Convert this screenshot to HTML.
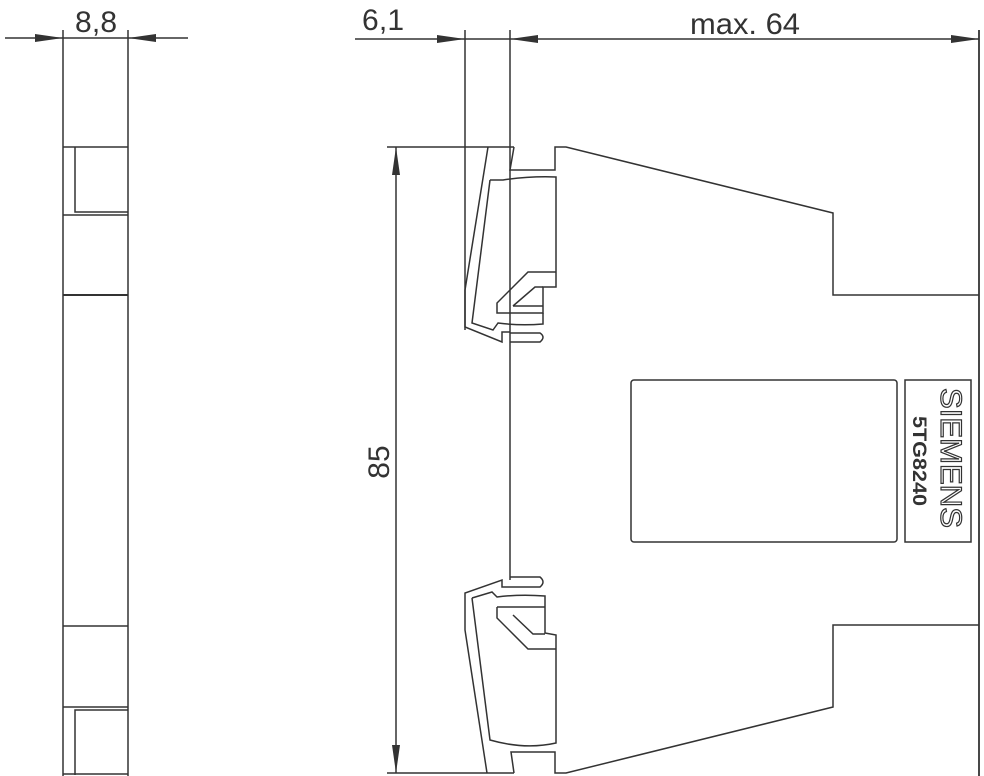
<!DOCTYPE html>
<html><head><meta charset="utf-8"><style>
html,body{margin:0;padding:0;background:#fff;}
svg{display:block;}
</style></head><body>
<svg width="984" height="776" viewBox="0 0 984 776" xmlns="http://www.w3.org/2000/svg">
<g fill="none" stroke="#333" stroke-width="1.5">
<line x1="63" y1="30" x2="63" y2="776"/>
<line x1="128" y1="30" x2="128" y2="776"/>
<line x1="5" y1="38" x2="63" y2="38"/>
<line x1="63" y1="38" x2="128" y2="38"/>
<line x1="128" y1="38" x2="188" y2="38"/>
<line x1="63" y1="147" x2="128" y2="147"/>
<polyline points="75,147 75,212 128,212"/>
<line x1="63" y1="215" x2="128" y2="215"/>
<line x1="63" y1="295" x2="128" y2="295" stroke-width="2"/>
<line x1="63" y1="626" x2="128" y2="626"/>
<line x1="63" y1="707" x2="128" y2="707"/>
<polyline points="75,775 75,710 128,710"/>
<line x1="63" y1="774" x2="128" y2="774"/>

<line x1="355" y1="39" x2="979" y2="39"/>
<line x1="465" y1="30" x2="465" y2="330"/>
<line x1="510" y1="30" x2="510" y2="580"/>
<line x1="979" y1="30" x2="979" y2="776" stroke-width="1.8"/>
<line x1="387" y1="147" x2="514" y2="147"/>
<line x1="387" y1="773" x2="514" y2="773"/>
<line x1="396" y1="147" x2="396" y2="773"/>

<polyline points="514,147 510,170 555,170 555,147 566,147 833,213 833,295 979,295"/>
<polyline points="514,773 511,752 555,752 555,773 566,773 833,707 833,625 979,625"/>

<polyline points="488,147 465,290 465,327 502,342 502,332 510,332"/>
<path d="M490,180 L503,180 Q530,176 556,177 L556,287 L543,287 L543,313 L497,313 L497,303 L528,272 L556,272"/>
<path d="M490,180 L472,323 L493,330 L498,323 Q520,326 543,324 L543,313"/>
<polyline points="513,306 535,287 543,287"/>
<line x1="513" y1="306" x2="543" y2="306"/>
<path d="M510,333 L540,333 Q546,337 540,342 L510,342"/>

<polyline points="487,773 465,630 465,593 502,580 502,587 510,587"/>
<path d="M510,577 L540,577 Q546,582 540,587 L510,587"/>
<path d="M472,598 L492,592 L497,597 Q520,594 545,596 L545,633 L556,635 L556,743 Q525,750 490,740 L472,598"/>
<polyline points="497,607 545,607"/>
<polyline points="497,607 497,618 528,649 556,649"/>
<polyline points="513,615 533,634 545,634"/>

<rect x="631" y="380" width="266" height="162" rx="3"/>
<rect x="905" y="380" width="66" height="162"/>
</g>
<g fill="#333">
<polygon points="63,38 35,34 35,42"/>
<polygon points="128,38 156,34 156,42"/>
<polygon points="465,39 437,35 437,43"/>
<polygon points="510,39 538,35 538,43"/>
<polygon points="979,39 951,35 951,43"/>
<polygon points="396,147 392,175 400,175"/>
<polygon points="396,773 392,745 400,745"/>
</g>
<g font-family="Liberation Sans, sans-serif" fill="#333">
<text x="96" y="32" font-size="30" text-anchor="middle" textLength="42" lengthAdjust="spacing">8,8</text>
<text x="383" y="30" font-size="30" text-anchor="middle" textLength="42" lengthAdjust="spacing">6,1</text>
<text x="745" y="34" font-size="30" text-anchor="middle" textLength="110" lengthAdjust="spacingAndGlyphs">max. 64</text>
<text transform="translate(389,462) rotate(-90)" font-size="30" text-anchor="middle">85</text>
<text transform="translate(941,458) rotate(90)" font-size="30" text-anchor="middle" fill="#fff" stroke="#333" stroke-width="1.2" textLength="140" lengthAdjust="spacingAndGlyphs">SIEMENS</text>
<text transform="translate(913,461) rotate(90)" font-size="19" font-weight="bold" text-anchor="middle" textLength="90" lengthAdjust="spacingAndGlyphs">5TG8240</text>
</g>
</svg>
</body></html>
